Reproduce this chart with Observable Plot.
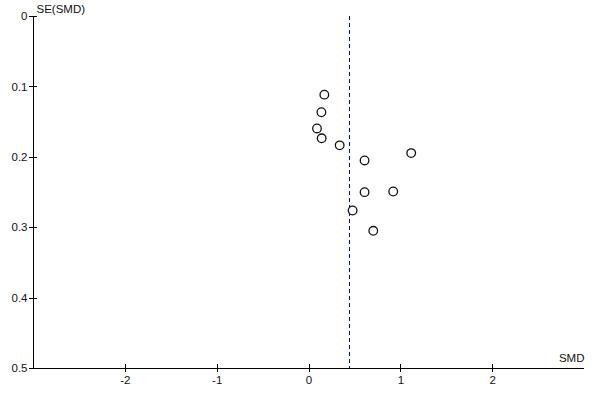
<!DOCTYPE html>
<html>
<head>
<meta charset="utf-8">
<script src="https://cdn.jsdelivr.net/npm/d3@7"></script>
<script src="https://cdn.jsdelivr.net/npm/@observablehq/plot@0.6"></script>
<style>
  html, body { margin: 0; padding: 0; background: #fff; }
  #chart { width: 600px; height: 400px; }
</style>
</head>
<body>
<div id="chart"></div>
<script>
// Study effects (SMD) and standard errors SE(SMD)
const smd = [0.167, 0.135, 0.087, 0.138, 0.334, 0.605, 1.113, 0.605, 0.917, 0.475, 0.700];
const se  = [0.111, 0.136, 0.159, 0.173, 0.183, 0.2045, 0.194, 0.2495, 0.2486, 0.2756, 0.3044];
const pooled = 0.446;
const xTicks = [-2, -1, 0, 1, 2];
const yTicks = [0, 0.1, 0.2, 0.3, 0.4, 0.5];
const xDomain = [-3, 3];
const yDomain = [0, 0.5];

const studies = smd.map((x, i) => ({x, y: se[i]}));
const font = "Arial, 'Liberation Sans', sans-serif";

const chart = Plot.plot({
  width: 600,
  height: 400,
  marginLeft: 33,
  marginRight: 16,
  marginTop: 16,
  marginBottom: 32,
  style: {fontFamily: font, fontSize: "11px", background: "#fff"},
  x: {domain: xDomain, axis: null},
  y: {domain: yDomain, reverse: true, axis: null},
  marks: [
    // axis lines
    Plot.ruleY([yDomain[1]], {stroke: "#000", strokeWidth: 1, shapeRendering: "crispEdges"}),
    Plot.ruleX([xDomain[0]], {stroke: "#000", strokeWidth: 1, shapeRendering: "crispEdges"}),
    // x ticks crossing the axis
    Plot.ruleX(xTicks, {x: d => d, y1: yDomain[1], y2: yDomain[1], insetTop: -4, insetBottom: -4, stroke: "#000", shapeRendering: "crispEdges"}),
    Plot.text(xTicks, {x: d => d, y: yDomain[1], text: d => String(d), dy: 12, fill: "#111", fontSize: 11.5}),
    // y ticks crossing the axis
    Plot.ruleY(yTicks, {y: d => d, x1: xDomain[0], x2: xDomain[0], insetLeft: -4, insetRight: -4, stroke: "#000", shapeRendering: "crispEdges"}),
    Plot.text(yTicks, {y: d => d, x: xDomain[0], text: d => String(d), dx: -6, textAnchor: "end", fill: "#111", fontSize: 11.5}),
    // axis labels
    Plot.text(["SE(SMD)"], {x: xDomain[0], y: yDomain[0], text: d => d, dx: 3, dy: -7, textAnchor: "start", fill: "#111", fontSize: 11.5}),
    Plot.text(["SMD"], {x: xDomain[1], y: yDomain[1], text: d => d, dy: -10, textAnchor: "end", fill: "#111", fontSize: 11.5}),
    // pooled estimate
    Plot.ruleX([pooled], {y1: yDomain[0], y2: yDomain[1], stroke: "#0000c8", strokeDasharray: "4,3", strokeWidth: 1, shapeRendering: "crispEdges"}),
    // studies
    Plot.dot(studies, {x: "x", y: "y", r: 4.3, fill: "#fff", stroke: "#111", strokeWidth: 1.3})
  ]
});
document.getElementById("chart").appendChild(chart);
</script>
</body>
</html>
